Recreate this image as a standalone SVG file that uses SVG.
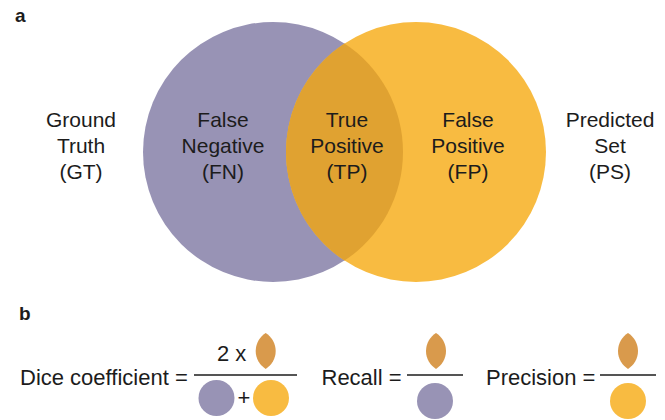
<svg xmlns="http://www.w3.org/2000/svg" width="665" height="420" viewBox="0 0 665 420">
  <style>
    text { font-family: "Liberation Sans", Arial, sans-serif; fill: #1c1c1c; }
    .lbl { font-size: 21px; text-anchor: middle; }
    .eq { font-size: 22px; }
    .panel { font-size: 19px; font-weight: bold; }
    .gt { fill: #9893b5; }
    .ps { fill: #f8bb41; }
    .tp { fill: #e0a231; }
    .leaf { fill: #d99a4c; }
    .bar { stroke: #1c1c1c; stroke-width: 1.5; fill: none; }
  </style>
  <defs>
    <!-- small lens glyph, centred on the origin -->
    <path id="leaf" d="M0,-18 A21.2,21.2 0 0 1 0,18 A21.2,21.2 0 0 1 0,-18 Z"/>
  </defs>

  <!-- panel a -->
  <text class="panel" x="15" y="22">a</text>

  <g id="gt-set">
    <circle class="gt" cx="273" cy="152" r="130"/>
  </g>
  <g id="ps-set">
    <circle class="ps" cx="416" cy="152" r="130"/>
  </g>
  <g id="tp-overlap">
    <path class="tp" d="M344.5,43.43 A130,130 0 0 1 344.5,260.57 A130,130 0 0 1 344.5,43.43 Z"/>
  </g>

  <g id="label-fn">
    <text class="lbl" x="223" y="127">False</text>
    <text class="lbl" x="223" y="153">Negative</text>
    <text class="lbl" x="223" y="179">(FN)</text>
  </g>
  <g id="label-tp">
    <text class="lbl" x="347" y="127">True</text>
    <text class="lbl" x="347" y="153">Positive</text>
    <text class="lbl" x="347" y="179">(TP)</text>
  </g>
  <g id="label-fp">
    <text class="lbl" x="468" y="127">False</text>
    <text class="lbl" x="468" y="153">Positive</text>
    <text class="lbl" x="468" y="179">(FP)</text>
  </g>
  <g id="label-gt">
    <text class="lbl" x="81" y="127">Ground</text>
    <text class="lbl" x="81" y="153">Truth</text>
    <text class="lbl" x="81" y="179">(GT)</text>
  </g>
  <g id="label-ps">
    <text class="lbl" x="610" y="127">Predicted</text>
    <text class="lbl" x="610" y="153">Set</text>
    <text class="lbl" x="610" y="179">(PS)</text>
  </g>

  <!-- panel b -->
  <text class="panel" x="19" y="320">b</text>

  <g id="dice">
    <text class="eq" x="20" y="385">Dice coefficient =</text>
    <text class="eq" x="217" y="361">2 x</text>
    <use href="#leaf" class="leaf" x="265.7" y="351"/>
    <line class="bar" x1="194" y1="375" x2="297" y2="375"/>
    <circle class="gt" cx="216.5" cy="398" r="18"/>
    <text class="eq" x="244" y="405" text-anchor="middle">+</text>
    <circle class="ps" cx="271" cy="398" r="18"/>
  </g>

  <g id="recall">
    <text class="eq" x="321.5" y="385">Recall =</text>
    <use href="#leaf" class="leaf" x="436" y="351"/>
    <line class="bar" x1="407" y1="375" x2="463" y2="375"/>
    <circle class="gt" cx="435" cy="401" r="18"/>
  </g>

  <g id="precision">
    <text class="eq" x="486" y="385">Precision =</text>
    <use href="#leaf" class="leaf" x="628" y="351"/>
    <line class="bar" x1="600" y1="375" x2="656" y2="375"/>
    <circle class="ps" cx="628" cy="401" r="18"/>
  </g>
</svg>
